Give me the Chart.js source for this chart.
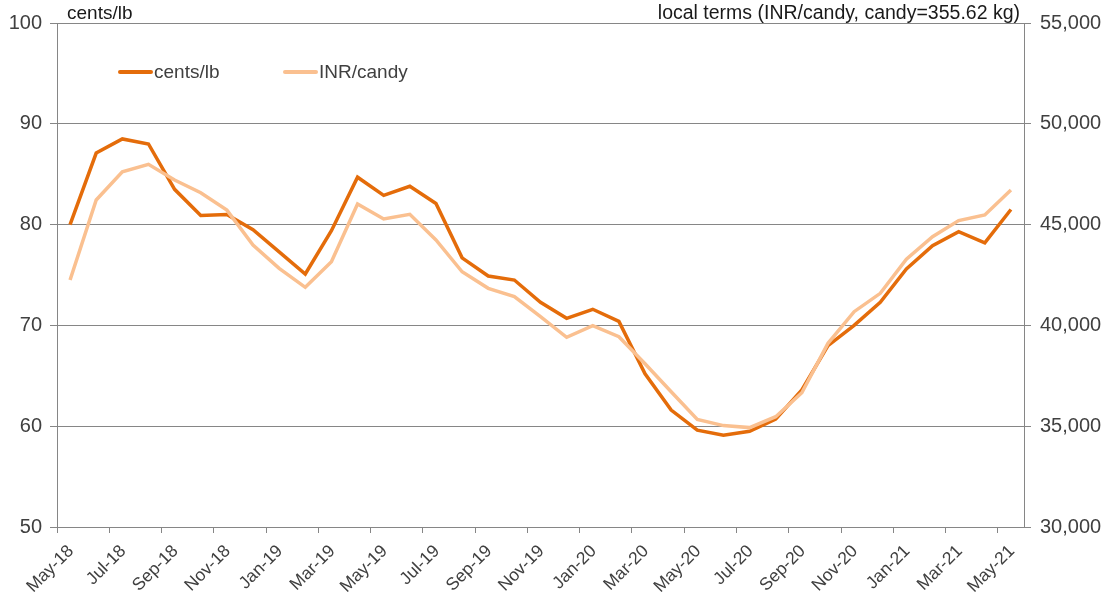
<!DOCTYPE html>
<html>
<head>
<meta charset="utf-8">
<script src="https://cdn.jsdelivr.net/npm/chart.js@4/dist/chart.umd.min.js"></script>
<style>
  html, body { margin: 0; padding: 0; background: #ffffff; }
  #wrap { width: 1108px; height: 601px; position: relative; }
</style>
</head>
<body>
<div id="wrap"><canvas id="c"></canvas></div>
<script>
// ---- data ----
const months = ['May-18','Jun-18','Jul-18','Aug-18','Sep-18','Oct-18','Nov-18','Dec-18',
  'Jan-19','Feb-19','Mar-19','Apr-19','May-19','Jun-19','Jul-19','Aug-19','Sep-19','Oct-19','Nov-19','Dec-19',
  'Jan-20','Feb-20','Mar-20','Apr-20','May-20','Jun-20','Jul-20','Aug-20','Sep-20','Oct-20','Nov-20','Dec-20',
  'Jan-21','Feb-21','Mar-21','Apr-21','May-21'];
const centsLb = [80.0, 87.1, 88.5, 88.0, 83.5, 80.9, 81.0, 79.5, 77.3, 75.1,
  79.4, 84.7, 82.9, 83.8, 82.1, 76.7, 74.9, 74.5, 72.3, 70.7,
  71.6, 70.4, 65.2, 61.6, 59.6, 59.1, 59.5, 60.7, 63.6, 68.0,
  70.0, 72.3, 75.6, 77.9, 79.3, 78.2, 81.5];
const inrCandy = [42250, 46220, 47620, 47990, 47210, 46580, 45720, 43990, 42830, 41890,
  43160, 46020, 45280, 45510, 44240, 42660, 41840, 41430, 40430, 39410,
  39990, 39440, 38100, 36710, 35340, 35030, 34930, 35470, 36660, 39110,
  40680, 41590, 43280, 44400, 45200, 45480, 46720];
const tickLabels = ['May-18','Jul-18','Sep-18','Nov-18','Jan-19','Mar-19','May-19','Jul-19','Sep-19',
  'Nov-19','Jan-20','Mar-20','May-20','Jul-20','Sep-20','Nov-20','Jan-21','Mar-21','May-21'];
const leftTitle = 'cents/lb';
const rightTitle = 'local terms (INR/candy, candy=355.62 kg)';
const seriesNames = ['cents/lb', 'INR/candy'];

const DARK = '#E46C0A';
const LIGHT = '#FAC090';
const GRID = '#868686';
const TXT = '#404040';
const FONT = '"Liberation Sans", Arial, sans-serif';

// each month occupies one unit on the x scale; points sit at slot centres
const ptsCents = centsLb.map((v, i) => ({ x: i + 0.5, y: v }));
const ptsInr = inrCandy.map((v, i) => ({ x: i + 0.5, y: v }));

const overlay = {
  id: 'overlay',
  afterDraw(chart) {
    const ctx = chart.ctx;
    const a = chart.chartArea;
    ctx.save();
    ctx.fillStyle = '#1a1a1a';
    ctx.textBaseline = 'alphabetic';
    ctx.textAlign = 'left';
    ctx.font = '19px ' + FONT;
    ctx.fillText(leftTitle, a.left + 10, 19);
    ctx.textAlign = 'right';
    ctx.font = '19.5px ' + FONT;
    ctx.fillText(rightTitle, a.right - 4, 19);
    // legend
    const ly = 72;
    const items = [
      { x: 118, color: DARK, name: seriesNames[0] },
      { x: 283, color: LIGHT, name: seriesNames[1] }
    ];
    ctx.font = '19px ' + FONT;
    ctx.textAlign = 'left';
    ctx.textBaseline = 'middle';
    ctx.fillStyle = TXT;
    items.forEach(it => {
      ctx.strokeStyle = it.color;
      ctx.lineWidth = 4;
      ctx.lineCap = 'round';
      ctx.beginPath();
      ctx.moveTo(it.x + 2, ly);
      ctx.lineTo(it.x + 33, ly);
      ctx.stroke();
      ctx.fillText(it.name, it.x + 36, ly + 1);
    });
    ctx.restore();
  }
};

new Chart(document.getElementById('c'), {
  type: 'line',
  data: {
    datasets: [
      { label: seriesNames[0], data: ptsCents, yAxisID: 'y', borderColor: DARK, backgroundColor: DARK,
        borderWidth: 3.5, pointRadius: 0, tension: 0, order: 1 },
      { label: seriesNames[1], data: ptsInr, yAxisID: 'y1', borderColor: LIGHT, backgroundColor: LIGHT,
        borderWidth: 3.5, pointRadius: 0, tension: 0, order: 0 }
    ]
  },
  options: {
    responsive: true,
    maintainAspectRatio: false,
    animation: false,
    devicePixelRatio: 1,
    layout: { padding: { top: 23, left: 0, right: 0, bottom: 0 } },
    plugins: { legend: { display: false }, title: { display: false }, tooltip: { enabled: false } },
    scales: {
      x: {
        type: 'linear',
        min: 0,
        max: months.length,
        afterBuildTicks(scale) {
          scale.ticks = tickLabels.map((t, k) => ({ value: k * 2 }));
        },
        afterFit(scale) { scale.height = 74; },
        grid: { drawOnChartArea: false, color: GRID, tickLength: 6, lineWidth: 1 },
        border: { color: GRID, width: 1 },
        ticks: {
          autoSkip: false,
          maxRotation: 45,
          minRotation: 45,
          labelOffset: 14,
          padding: 8,
          color: TXT,
          font: { family: FONT, size: 17.5 },
          callback: (v) => tickLabels[Math.round(v / 2)]
        }
      },
      y: {
        position: 'left',
        min: 50, max: 100,
        ticks: { stepSize: 10, color: TXT, font: { family: FONT, size: 20 }, padding: 8 },
        afterFit(scale) { scale.width = 57; },
        grid: { color: GRID, lineWidth: 1, tickLength: 7 },
        border: { color: GRID, width: 1 }
      },
      y1: {
        position: 'right',
        min: 30000, max: 55000,
        ticks: { stepSize: 5000, color: TXT, font: { family: FONT, size: 20 }, padding: 9,
          callback: (v) => v.toLocaleString('en-US') },
        afterFit(scale) { scale.width = 84; },
        grid: { drawOnChartArea: false, color: GRID, lineWidth: 1, tickLength: 7 },
        border: { color: GRID, width: 1 }
      }
    }
  },
  plugins: [overlay]
});
</script>
</body>
</html>
